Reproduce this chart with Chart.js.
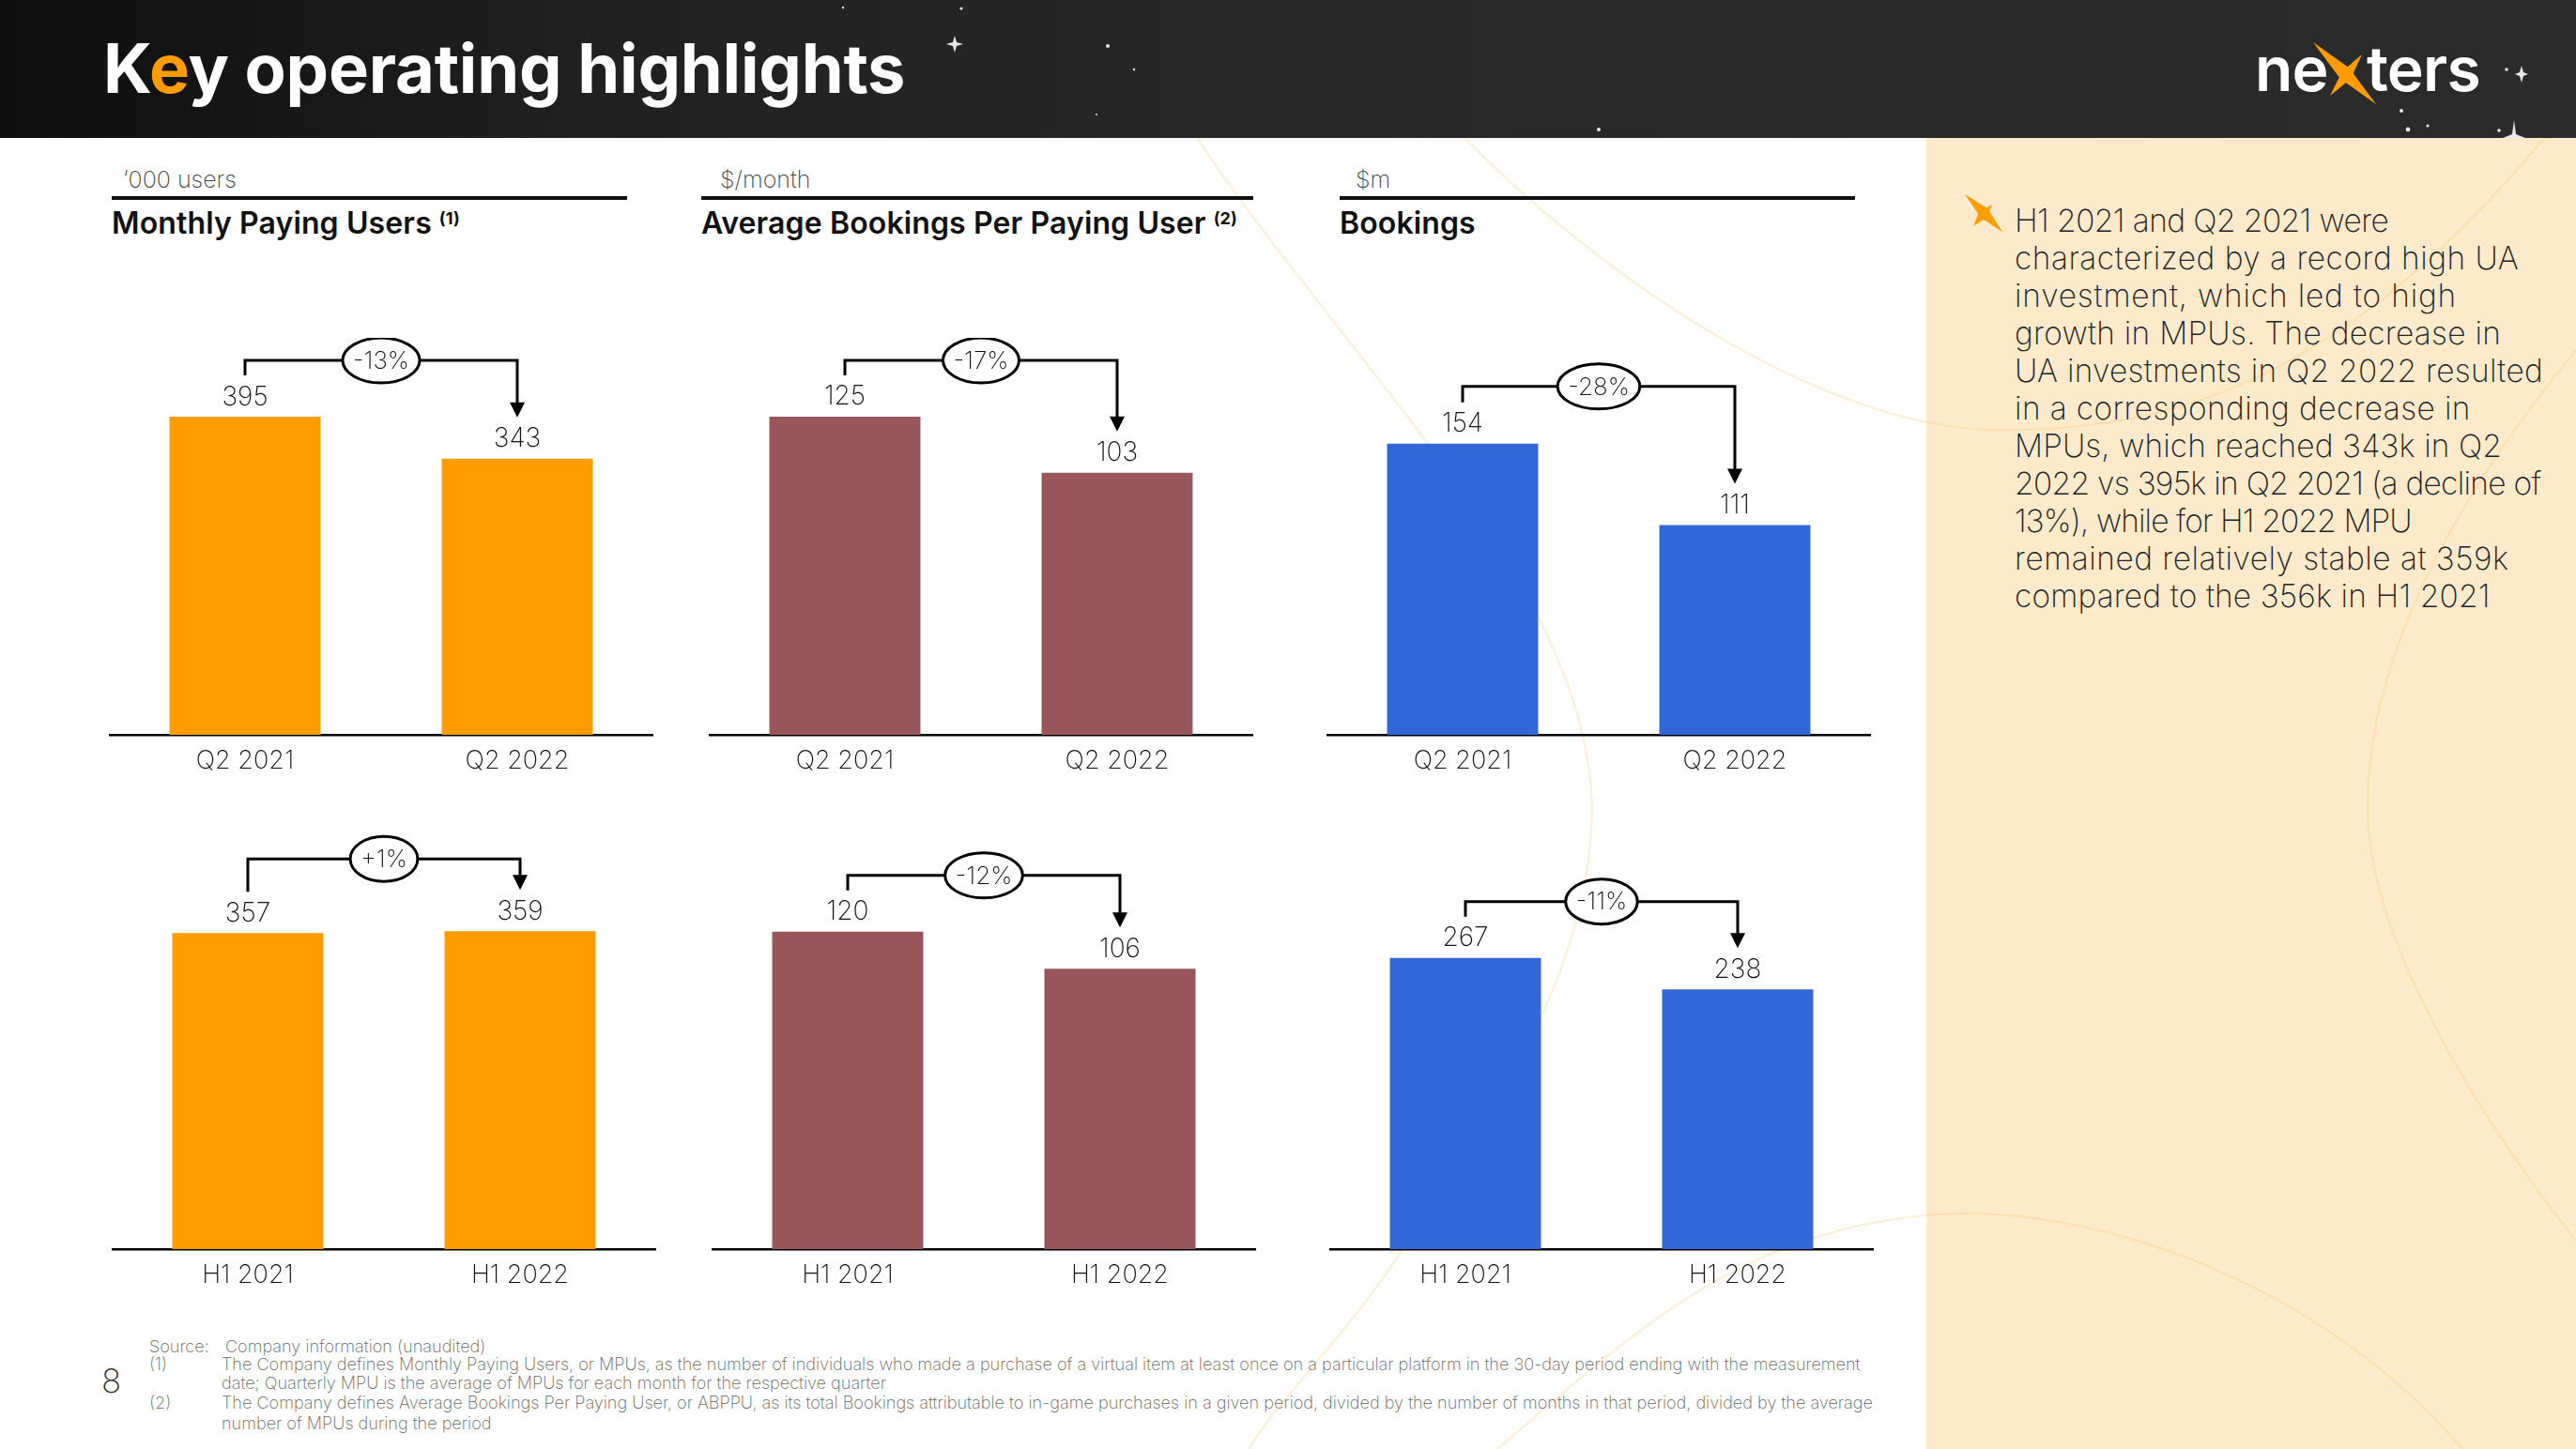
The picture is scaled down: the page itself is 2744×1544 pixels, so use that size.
<!DOCTYPE html>
<html>
<head>
<meta charset="utf-8">
<title>Key operating highlights</title>
<script src="https://cdn.jsdelivr.net/npm/chart.js@4"></script>
<style>
  html, body { margin: 0; padding: 0; background: #fff; }
  #slide { position: relative; width: 2744px; height: 1544px; overflow: hidden; font-family: Inter, sans-serif; background: #fff; }
  #slide > * { position: absolute; }
  #panel { left: 2052px; top: 147px; width: 692px; height: 1397px; background: #fdeaca; }
  #header { left: 0; top: 0; width: 2744px; height: 147px; background: linear-gradient(90deg, #0e0e0e 0%, #202020 22%, #282828 50%, #2b2b2b 100%); }
  #decor { left: 0; top: 0; }
  canvas { position: absolute; }
  .unit, .ttl, .foot, .body { white-space: nowrap; }
  h1 { margin: 0; left: 110px; top: 33px; font-size: 72.2px; line-height: 80px; font-weight: 700; color: #fff; letter-spacing: -0.2px; }
  h1 span { color: #ff9c00; }
  .logo { top: 33px; font-size: 66px; line-height: 80px; font-weight: 600; color: #fff; letter-spacing: -0.8px; }
  .unit { top: 175px; font-size: 25px; line-height: 32px; font-weight: 200; color: #444; }
  .rule { top: 209px; height: 4px; background: #111; }
  .ttl { top: 220px; font-size: 32px; line-height: 36px; font-weight: 600; color: #111; letter-spacing: 0.12px; }
  .ttl sup { font-size: 18px; font-weight: 700; line-height: 0; margin-left: 8px; vertical-align: 10px; }
  .body { left: 2146px; font-size: 33.5px; line-height: 40px; font-weight: 200; color: #222; }
  .foot { font-size: 18.1px; line-height: 20px; font-weight: 200; color: #666; }
  #pageno { left: 108px; top: 1450px; font-size: 35px; line-height: 42px; font-weight: 200; color: #333; }
</style>
</head>
<body>
<div id="slide">
  <div id="panel"></div>
  <svg id="decor" width="2744" height="1544" fill="none" stroke="#fbc878" stroke-opacity="0.3" stroke-width="2">
    <path d="M1275 147 C1430 380 1690 620 1696 860 C1694 1060 1560 1220 1494 1331 C1430 1430 1370 1480 1330 1544"/>
    <path d="M1560 147 C1700 290 1930 450 2116 458 C2320 462 2500 400 2710 147"/>
    <path d="M2744 373 C2640 500 2522 680 2522 860 C2522 1000 2640 1190 2744 1322"/>
    <path d="M1595 1544 C1720 1440 1860 1290 2107 1293 C2300 1300 2500 1400 2623 1544"/>
  </svg>
  <div id="header"></div>
  <svg id="stars" style="left:0;top:0" width="2744" height="147" fill="#e8e8e8">
    <path d="M1017 38 L1019 45 L1026 47 L1019 49 L1017 56 L1015 49 L1008 47 L1015 45Z"/>
    <circle cx="1024" cy="9" r="1.6"/><circle cx="1180" cy="49" r="2"/><circle cx="1208" cy="74" r="1.2"/>
    <circle cx="898" cy="8" r="1.2"/><circle cx="1703" cy="138" r="2"/><circle cx="1168" cy="122" r="1"/>
    <path d="M2686 70 L2688 77 L2693 79 L2688 81 L2686 88 L2684 81 L2679 79 L2684 77Z"/>
    <circle cx="2670" cy="74" r="1.8"/><circle cx="2558" cy="118" r="2"/><circle cx="2565" cy="138" r="2.4"/><circle cx="2586" cy="134" r="1.6"/>
    <path d="M2678 128 L2680 143 L2690 147 L2666 147 L2676 143Z"/><circle cx="2662" cy="139" r="1.8"/>
  </svg>
  <h1>K<span>e</span>y operating highlights</h1>
  <div class="logo" style="left:2402px">ne</div>
  <div class="logo" style="left:2521px">ters</div>
  <svg style="left:0;top:0" width="2744" height="300" fill="#ff9c00">
    <polygon points="2464,45 2502,72 2531,111 2493,84"/>
    <polygon points="2482,102 2495,76 2516,58 2504,84"/>
    <polygon points="2093,207 2117,222 2133,247 2110,232"/>
    <polygon points="2102,241 2108,226 2122,218 2116,232"/>
  </svg>

  <div class="unit" style="left:131px">‘000 users</div>
  <div class="rule" style="left:119px;width:549px"></div>
  <div class="ttl" style="left:119px">Monthly Paying Users<sup>(1)</sup></div>
  <div class="unit" style="left:767px">$/month</div>
  <div class="rule" style="left:747px;width:588px"></div>
  <div class="ttl" style="left:747px">Average Bookings Per Paying User<sup>(2)</sup></div>
  <div class="unit" style="left:1444px">$m</div>
  <div class="rule" style="left:1427px;width:549px"></div>
  <div class="ttl" style="left:1427px">Bookings</div>

  <div class="body" style="top:215px;letter-spacing:-0.6px">H1 2021 and Q2 2021 were</div>
  <div class="body" style="top:255px;letter-spacing:0.48px">characterized by a record high UA</div>
  <div class="body" style="top:295px;letter-spacing:0.81px">investment, which led to high</div>
  <div class="body" style="top:335px;letter-spacing:0.25px">growth in MPUs. The decrease in</div>
  <div class="body" style="top:375px;letter-spacing:0.26px">UA investments in Q2 2022 resulted</div>
  <div class="body" style="top:415px;letter-spacing:0.37px">in a corresponding decrease in</div>
  <div class="body" style="top:455px;letter-spacing:0.08px">MPUs, which reached 343k in Q2</div>
  <div class="body" style="top:495px;letter-spacing:-0.72px">2022 vs 395k in Q2 2021 (a decline of</div>
  <div class="body" style="top:535px;letter-spacing:-0.9px">13%), while for H1 2022 MPU</div>
  <div class="body" style="top:575px;letter-spacing:0.48px">remained relatively stable at 359k</div>
  <div class="body" style="top:615px;letter-spacing:0.12px">compared to the 356k in H1 2021</div>

  <div id="pageno">8</div>
  <div class="foot" style="left:159px;top:1424px">Source:</div>
  <div class="foot" style="left:240px;top:1424px">Company information (unaudited)</div>
  <div class="foot" style="left:159px;top:1443px">(1)</div>
  <div class="foot" style="left:236px;top:1443px">The Company defines Monthly Paying Users, or MPUs, as the number of individuals who made a purchase of a virtual item at least once on a particular platform in the 30-day period ending with the measurement</div>
  <div class="foot" style="left:236px;top:1463px">date; Quarterly MPU is the average of MPUs for each month for the respective quarter</div>
  <div class="foot" style="left:159px;top:1484px">(2)</div>
  <div class="foot" style="left:236px;top:1484px">The Company defines Average Bookings Per Paying User, or ABPPU, as its total Bookings attributable to in-game purchases in a given period, divided by the number of months in that period, divided by the average</div>
  <div class="foot" style="left:236px;top:1506px">number of MPUs during the period</div>

  <canvas id="mpuQ" style="left:116px;top:360px" width="580" height="470"></canvas>
  <canvas id="abppuQ" style="left:755px;top:360px" width="580" height="470"></canvas>
  <canvas id="bookQ" style="left:1413px;top:360px" width="580" height="470"></canvas>
  <canvas id="mpuH" style="left:119px;top:880px" width="580" height="498"></canvas>
  <canvas id="abppuH" style="left:758px;top:880px" width="580" height="498"></canvas>
  <canvas id="bookH" style="left:1416px;top:880px" width="580" height="498"></canvas>
</div>

<script>
// values
const quarters = ['Q2 2021', 'Q2 2022'];
const halves = ['H1 2021', 'H1 2022'];

const mpuQuarter = [395, 343];
const abppuQuarter = [125, 103];
const bookingsQuarter = [154, 111];
const mpuHalf = [357, 359];
const abppuHalf = [120, 106];
const bookingsHalf = [267, 238];

const mpuQuarterChange = '-13%';
const abppuQuarterChange = '-17%';
const bookingsQuarterChange = '-28%';
const mpuHalfChange = '+1%';
const abppuHalfChange = '-12%';
const bookingsHalfChange = '-11%';

const ORANGE = '#ff9c00';
const MAROON = '#99565a';
const BLUE = '#3366d6';
const LABEL_FONT = '200 28px Inter';

// value labels plus the bracket/arrow with the % bubble
const bracketPlugin = {
  id: 'bracket',
  afterDatasetsDraw(chart, args, opts) {
    const ctx = chart.ctx;
    const meta = chart.getDatasetMeta(0).data;
    const values = chart.data.datasets[0].data;
    const x0 = meta[0].x, x1 = meta[1].x;
    const y0 = meta[0].y, y1 = meta[1].y;
    const top = Math.min(y0, y1) - opts.rise;
    const midX = (x0 + x1) / 2;

    ctx.save();
    ctx.fillStyle = '#111';
    ctx.font = LABEL_FONT;
    ctx.textAlign = 'center';
    ctx.textBaseline = 'middle';
    ctx.fillText(values[0], x0, y0 - 21);
    ctx.fillText(values[1], x1, y1 - 21);

    ctx.strokeStyle = '#000';
    ctx.lineWidth = 3;
    ctx.beginPath();
    ctx.moveTo(x0, y0 - 44);
    ctx.lineTo(x0, top);
    ctx.lineTo(x1, top);
    ctx.lineTo(x1, y1 - 58);
    ctx.stroke();

    ctx.fillStyle = '#000';
    ctx.beginPath();
    ctx.moveTo(x1 - 8, y1 - 60);
    ctx.lineTo(x1 + 8, y1 - 60);
    ctx.lineTo(x1, y1 - 44);
    ctx.closePath();
    ctx.fill();

    ctx.font = '200 26px Inter';
    const rx = ctx.measureText(opts.text).width / 2 + 11;
    ctx.fillStyle = '#fff';
    ctx.beginPath();
    ctx.ellipse(midX, top, rx, 24, 0, 0, Math.PI * 2);
    ctx.fill();
    ctx.stroke();
    ctx.fillStyle = '#111';
    ctx.fillText(opts.text, midX, top + 1);
    ctx.restore();
  }
};

function barChart(id, labels, values, color, yMax, change, rise) {
  new Chart(document.getElementById(id), {
    type: 'bar',
    data: {
      labels: labels,
      datasets: [{ data: values, backgroundColor: color, barPercentage: 0.555, categoryPercentage: 1 }]
    },
    plugins: [bracketPlugin],
    options: {
      responsive: false,
      animation: false,
      layout: { padding: 0 },
      plugins: {
        legend: { display: false },
        tooltip: { enabled: false },
        bracket: { text: change, rise: rise }
      },
      scales: {
        x: {
          afterFit: axis => { axis.height = 47; },
          grid: { display: false, drawTicks: false },
          border: { display: true, color: '#000', width: 2.5 },
          ticks: { color: '#111', font: { family: 'Inter', size: 27, weight: '200' }, padding: 12, maxRotation: 0 }
        },
        y: { display: false, min: 0, max: yMax }
      }
    }
  });
}

barChart('mpuQ', quarters, mpuQuarter, ORANGE, 493, mpuQuarterChange, 60);
barChart('abppuQ', quarters, abppuQuarter, MAROON, 156, abppuQuarterChange, 60);
barChart('bookQ', quarters, bookingsQuarter, BLUE, 210, bookingsQuarterChange, 61);
barChart('mpuH', halves, mpuHalf, ORANGE, 478, mpuHalfChange, 77);
barChart('abppuH', halves, abppuHalf, MAROON, 160, abppuHalfChange, 60);
barChart('bookH', halves, bookingsHalf, BLUE, 388, bookingsHalfChange, 60);
</script>
</body>
</html>
